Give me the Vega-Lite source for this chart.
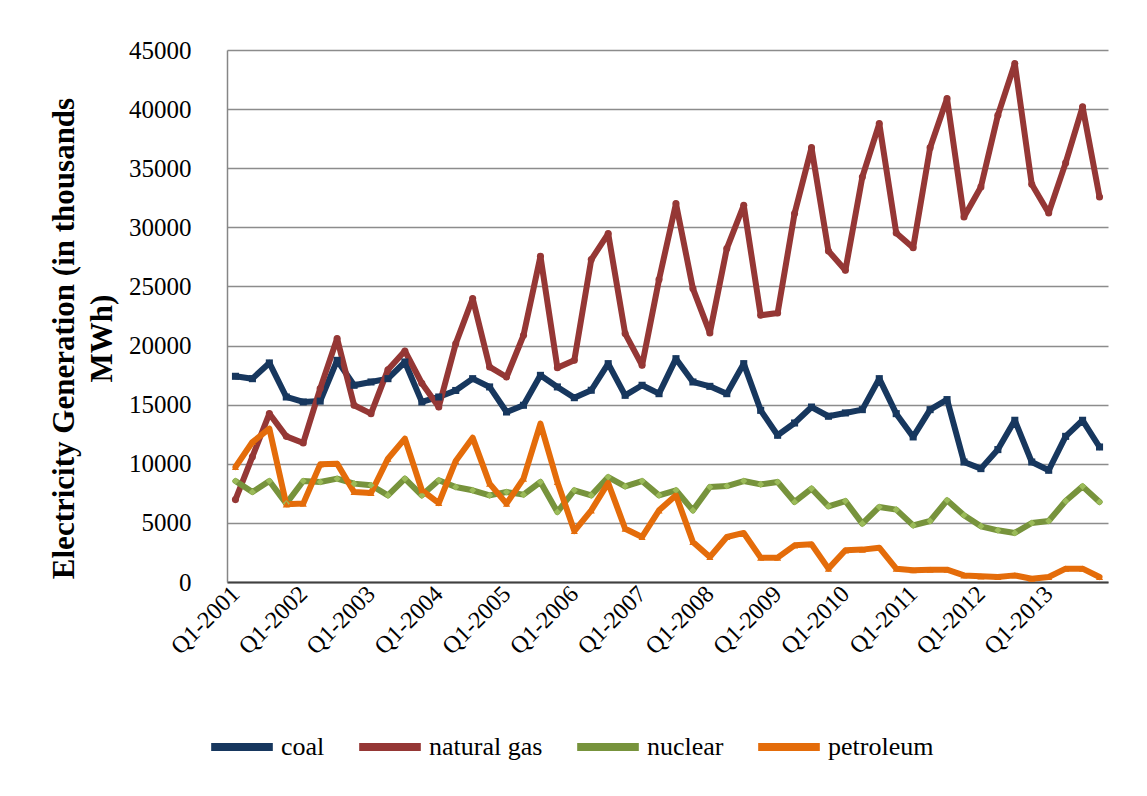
{
  "$schema": "https://vega.github.io/schema/vega-lite/v6.json",
  "autosize": "none",
  "width": 881,
  "height": 532,
  "padding": {"left": 227, "top": 50, "right": 39, "bottom": 214},
  "background": "white",
  "config": {
    "font": "Liberation Serif",
    "view": {"stroke": null}
  },
  "data": {
    "values": [
      {"q": "Q1-2001", "coal": 17400, "natural gas": 6970, "nuclear": 8540, "petroleum": 9730},
      {"q": "Q2-2001", "coal": 17200, "natural gas": 10600, "nuclear": 7610, "petroleum": 11840},
      {"q": "Q3-2001", "coal": 18530, "natural gas": 14240, "nuclear": 8540, "petroleum": 12970},
      {"q": "Q4-2001", "coal": 15650, "natural gas": 12320, "nuclear": 6630, "petroleum": 6570},
      {"q": "Q1-2002", "coal": 15230, "natural gas": 11760, "nuclear": 8540, "petroleum": 6630},
      {"q": "Q2-2002", "coal": 15300, "natural gas": 16360, "nuclear": 8460, "petroleum": 9950},
      {"q": "Q3-2002", "coal": 18750, "natural gas": 20590, "nuclear": 8740, "petroleum": 10010},
      {"q": "Q4-2002", "coal": 16640, "natural gas": 14950, "nuclear": 8320, "petroleum": 7610},
      {"q": "Q1-2003", "coal": 16920, "natural gas": 14240, "nuclear": 8180, "petroleum": 7530},
      {"q": "Q2-2003", "coal": 17200, "natural gas": 17960, "nuclear": 7330, "petroleum": 10430},
      {"q": "Q3-2003", "coal": 18610, "natural gas": 19540, "nuclear": 8740, "petroleum": 12130},
      {"q": "Q4-2003", "coal": 15230, "natural gas": 16810, "nuclear": 7330, "petroleum": 7760},
      {"q": "Q1-2004", "coal": 15650, "natural gas": 14800, "nuclear": 8600, "petroleum": 6680},
      {"q": "Q2-2004", "coal": 16200, "natural gas": 20160, "nuclear": 8040, "petroleum": 10240},
      {"q": "Q3-2004", "coal": 17200, "natural gas": 23980, "nuclear": 7760, "petroleum": 12210},
      {"q": "Q4-2004", "coal": 16500, "natural gas": 18190, "nuclear": 7330, "petroleum": 8320},
      {"q": "Q1-2005", "coal": 14380, "natural gas": 17340, "nuclear": 7610, "petroleum": 6630},
      {"q": "Q2-2005", "coal": 14950, "natural gas": 20870, "nuclear": 7390, "petroleum": 8740},
      {"q": "Q3-2005", "coal": 17480, "natural gas": 27550, "nuclear": 8460, "petroleum": 13400},
      {"q": "Q4-2005", "coal": 16500, "natural gas": 18130, "nuclear": 5920, "petroleum": 8460},
      {"q": "Q1-2006", "coal": 15590, "natural gas": 18750, "nuclear": 7760, "petroleum": 4310},
      {"q": "Q2-2006", "coal": 16220, "natural gas": 27270, "nuclear": 7330, "petroleum": 6060},
      {"q": "Q3-2006", "coal": 18470, "natural gas": 29470, "nuclear": 8880, "petroleum": 8380},
      {"q": "Q4-2006", "coal": 15790, "natural gas": 21010, "nuclear": 8090, "petroleum": 4510},
      {"q": "Q1-2007", "coal": 16640, "natural gas": 18330, "nuclear": 8540, "petroleum": 3810},
      {"q": "Q2-2007", "coal": 15930, "natural gas": 25580, "nuclear": 7330, "petroleum": 6060},
      {"q": "Q3-2007", "coal": 18890, "natural gas": 32010, "nuclear": 7760, "petroleum": 7330},
      {"q": "Q4-2007", "coal": 16920, "natural gas": 24820, "nuclear": 6060, "petroleum": 3380},
      {"q": "Q1-2008", "coal": 16550, "natural gas": 21070, "nuclear": 8040, "petroleum": 2120},
      {"q": "Q2-2008", "coal": 15930, "natural gas": 28200, "nuclear": 8120, "petroleum": 3810},
      {"q": "Q3-2008", "coal": 18470, "natural gas": 31870, "nuclear": 8540, "petroleum": 4150},
      {"q": "Q4-2008", "coal": 14520, "natural gas": 22560, "nuclear": 8260, "petroleum": 2060},
      {"q": "Q1-2009", "coal": 12410, "natural gas": 22760, "nuclear": 8460, "petroleum": 2060},
      {"q": "Q2-2009", "coal": 13450, "natural gas": 31160, "nuclear": 6770, "petroleum": 3100},
      {"q": "Q3-2009", "coal": 14800, "natural gas": 36740, "nuclear": 7900, "petroleum": 3190},
      {"q": "Q4-2009", "coal": 14020, "natural gas": 28000, "nuclear": 6400, "petroleum": 1130},
      {"q": "Q1-2010", "coal": 14300, "natural gas": 26370, "nuclear": 6850, "petroleum": 2680},
      {"q": "Q2-2010", "coal": 14580, "natural gas": 34260, "nuclear": 4940, "petroleum": 2740},
      {"q": "Q3-2010", "coal": 17200, "natural gas": 38780, "nuclear": 6350, "petroleum": 2900},
      {"q": "Q4-2010", "coal": 14240, "natural gas": 29530, "nuclear": 6120, "petroleum": 1130},
      {"q": "Q1-2011", "coal": 12270, "natural gas": 28280, "nuclear": 4790, "petroleum": 990},
      {"q": "Q2-2011", "coal": 14580, "natural gas": 36740, "nuclear": 5160, "petroleum": 1040},
      {"q": "Q3-2011", "coal": 15430, "natural gas": 40890, "nuclear": 6910, "petroleum": 1040},
      {"q": "Q4-2011", "coal": 10150, "natural gas": 30880, "nuclear": 5640, "petroleum": 560},
      {"q": "Q1-2012", "coal": 9590, "natural gas": 33420, "nuclear": 4710, "petroleum": 480},
      {"q": "Q2-2012", "coal": 11200, "natural gas": 39480, "nuclear": 4370, "petroleum": 420},
      {"q": "Q3-2012", "coal": 13680, "natural gas": 43850, "nuclear": 4150, "petroleum": 560},
      {"q": "Q4-2012", "coal": 10150, "natural gas": 33640, "nuclear": 4990, "petroleum": 280},
      {"q": "Q1-2013", "coal": 9450, "natural gas": 31220, "nuclear": 5160, "petroleum": 420},
      {"q": "Q2-2013", "coal": 12320, "natural gas": 35450, "nuclear": 6850, "petroleum": 1130},
      {"q": "Q3-2013", "coal": 13680, "natural gas": 40190, "nuclear": 8090, "petroleum": 1130},
      {"q": "Q4-2013", "coal": 11420, "natural gas": 32570, "nuclear": 6770, "petroleum": 420}
    ]
  },
  "transform": [
    {"fold": ["coal", "natural gas", "nuclear", "petroleum"], "as": ["series", "value"]}
  ],
  "encoding": {
    "x": {
      "field": "q",
      "type": "nominal",
      "sort": null,
      "scale": {"type": "point", "padding": 0.5},
      "axis": {
        "title": null,
        "values": ["Q1-2001", "Q1-2002", "Q1-2003", "Q1-2004", "Q1-2005", "Q1-2006", "Q1-2007", "Q1-2008", "Q1-2009", "Q1-2010", "Q1-2011", "Q1-2012", "Q1-2013"],
        "labelAngle": -45,
        "labelAlign": "right",
        "labelBaseline": "middle",
        "labelFont": "Liberation Serif",
        "labelFontSize": 24,
        "labelColor": "#000000",
        "labelPadding": 8,
        "ticks": false,
        "grid": false,
        "domainColor": "#404040",
        "domainWidth": 2
      }
    },
    "y": {
      "field": "value",
      "type": "quantitative",
      "scale": {"domain": [0, 45000], "nice": false},
      "axis": {
        "values": [0, 5000, 10000, 15000, 20000, 25000, 30000, 35000, 40000, 45000],
        "format": "d",
        "labelFont": "Liberation Serif",
        "labelFontSize": 25,
        "labelColor": "#000000",
        "labelPadding": 36,
        "ticks": false,
        "domainColor": "#868686",
        "domainWidth": 1.5,
        "gridColor": "#8c8c8c",
        "gridWidth": 1.5,
        "title": ["Electricity Generation (in thousands", "MWh)"],
        "titleFont": "Liberation Serif",
        "titleFontSize": 31,
        "titleFontWeight": "bold",
        "titleColor": "#000000",
        "titleLineHeight": 38,
        "titleAngle": -90,
        "titleAlign": "center",
        "titleBaseline": "top",
        "titleX": -178,
        "titleY": 288
      }
    }
  },
  "layer": [
    {
      "mark": {"type": "line", "strokeWidth": 6, "strokeCap": "round", "strokeJoin": "round"},
      "encoding": {
        "color": {
          "field": "series",
          "type": "nominal",
          "scale": {"domain": ["coal", "natural gas", "nuclear", "petroleum"], "range": ["#17375E", "#953735", "#77933C", "#E46C0A"]},
          "legend": {
            "title": null,
            "orient": "none",
            "direction": "horizontal",
            "legendX": -20,
            "legendY": 662,
            "symbolType": "stroke",
            "symbolSize": 3800,
            "symbolStrokeWidth": 8,
            "labelFont": "Liberation Serif",
            "labelFontSize": 26,
            "labelColor": "#000000",
            "labelOffset": 4,
            "columnPadding": 18
          }
        }
      }
    },
    {
      "mark": {"type": "point", "filled": true, "size": 50, "opacity": 1},
      "encoding": {
        "color": {
          "field": "series",
          "type": "nominal",
          "scale": {"domain": ["coal", "natural gas", "nuclear", "petroleum"], "range": ["#17375E", "#953735", "#9BBB59", "#E46C0A"]},
          "legend": null
        },
        "shape": {
          "field": "series",
          "type": "nominal",
          "scale": {"domain": ["coal", "natural gas", "nuclear", "petroleum"], "range": ["square", "circle", "diamond", "triangle-up"]},
          "legend": null
        }
      }
    }
  ],
  "resolve": {"scale": {"color": "independent"}}
}
